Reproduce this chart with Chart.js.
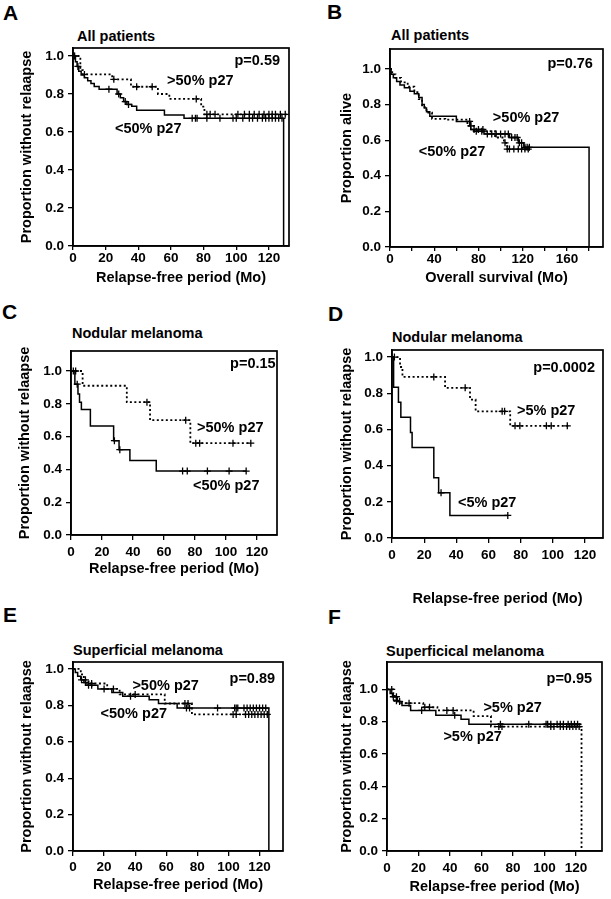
<!DOCTYPE html>
<html>
<head>
<meta charset="utf-8">
<script src="https://cdn.jsdelivr.net/npm/chart.js@4.4.1/dist/chart.umd.min.js"></script>
<style>
  body { margin: 0; width: 611px; height: 899px; background: #fff; position: relative; overflow: hidden; }
  canvas { position: absolute; }
  .lbl { position: absolute; font-family: 'Liberation Sans', Arial, sans-serif; font-weight: bold; color: #000; line-height: 1; white-space: nowrap; }
  .letter { font-size: 21px; }
  .ttl { font-size: 14.5px; }
</style>
</head>
<body>
<div class="lbl letter" style="left:3px;top:2px">A</div>
<div class="lbl letter" style="left:327px;top:1px">B</div>
<div class="lbl letter" style="left:2px;top:301px">C</div>
<div class="lbl letter" style="left:328px;top:303px">D</div>
<div class="lbl letter" style="left:3px;top:604px">E</div>
<div class="lbl letter" style="left:328px;top:606px">F</div>
<div class="lbl ttl" style="left:77px;top:29px">All patients</div>
<div class="lbl ttl" style="left:391px;top:28px">All patients</div>
<div class="lbl ttl" style="left:72px;top:326px">Nodular melanoma</div>
<div class="lbl ttl" style="left:392px;top:330px">Nodular melanoma</div>
<div class="lbl ttl" style="left:73px;top:643px">Superficial melanoma</div>
<div class="lbl ttl" style="left:386px;top:644px">Superficical melanoma</div>

<script>
// ─────────────────────────────────────────────────────────────
// DATA  (T = step times in months, S = proportion after the step,
//        C = censored times; marks sit on the curve)
// ─────────────────────────────────────────────────────────────
// A: all patients, relapse-free
const A_LO_T = [0, 1.5, 2.5, 3.5, 5, 7, 9, 11, 13, 16, 27, 29, 31, 33, 36, 39, 56, 68, 129];
const A_LO_S = [1, 0.97, 0.945, 0.92, 0.90, 0.885, 0.87, 0.855, 0.84, 0.825, 0.80, 0.78, 0.76, 0.745, 0.735, 0.715, 0.69, 0.672, 0];
const A_LO_C = [0.5, 3, 22, 28, 32, 34, 73, 75, 76, 82, 90, 98, 100, 104, 108, 110, 113, 116, 118, 120, 122, 124, 126, 128];
const A_HI_T = [0, 4.5, 6, 24, 35.5, 52, 59, 78.5, 80.5, 131];
const A_HI_S = [1, 0.926, 0.903, 0.877, 0.838, 0.80, 0.774, 0.733, 0.693, 0.693];
const A_HI_C = [1, 7, 25, 39, 48.5, 75.5, 82, 84, 87, 101, 105, 108, 111, 114, 117, 120, 122, 124, 127, 130];

// B: all patients, overall survival
const B_HI_T = [0, 1, 3, 6, 9, 13, 18, 22, 26, 29, 31, 33, 36, 60, 73, 85, 108, 116, 121, 180];
const B_HI_S = [1, 0.97, 0.95, 0.93, 0.91, 0.895, 0.875, 0.86, 0.84, 0.80, 0.78, 0.76, 0.735, 0.705, 0.66, 0.635, 0.615, 0.585, 0.56, 0];
const B_HI_C = [72, 76, 80, 84, 88, 92, 96, 100, 104, 107, 110, 113, 115, 117, 119, 122, 124, 126];
const B_LO_T = [0, 2, 5, 10, 16, 22, 26, 29, 33, 38, 50, 70, 76, 95, 103, 106, 127];
const B_LO_S = [1, 0.97, 0.95, 0.925, 0.90, 0.87, 0.83, 0.785, 0.755, 0.72, 0.715, 0.68, 0.65, 0.615, 0.585, 0.55, 0.55];
const B_LO_C = [73, 78, 83, 104, 106, 108, 112, 116, 119, 122, 125];

// C: nodular melanoma, 50% cut-off
const C_LO_T = [0, 2.5, 4.5, 5.5, 6.7, 12.5, 27.5, 31, 38, 55, 113];
const C_LO_S = [1, 0.92, 0.86, 0.81, 0.765, 0.665, 0.575, 0.52, 0.455, 0.39, 0.39];
const C_LO_C = [4, 28, 31.5, 72, 75, 88, 102, 113];
const C_HI_T = [0, 7.5, 36, 51, 77, 116];
const C_HI_S = [1, 0.91, 0.81, 0.70, 0.56, 0.56];
const C_HI_C = [1.5, 3, 49, 74, 80.5, 83, 104.5, 116];

// D: nodular melanoma, 5% cut-off
const D_LO_T = [0, 1, 4, 5.5, 11.5, 12.5, 26, 29, 36, 72];
const D_LO_S = [1, 0.833, 0.75, 0.667, 0.583, 0.5, 0.333, 0.25, 0.125, 0.125];
const D_LO_C = [30.5, 72];
const D_HI_T = [0, 5, 6.5, 33, 48.5, 52, 73.5, 110];
const D_HI_S = [1, 0.945, 0.89, 0.83, 0.765, 0.70, 0.62, 0.62];
const D_HI_C = [1.5, 26, 45.5, 68.5, 70, 76.5, 79.5, 96, 99, 109];

// E: superficial melanoma, 50% cut-off
const E_LO_T = [0, 1.5, 3, 5, 7, 9, 16, 25, 32, 49, 55, 67, 126];
const E_LO_S = [1, 0.98, 0.96, 0.94, 0.925, 0.91, 0.89, 0.87, 0.85, 0.83, 0.81, 0.785, 0];
const E_LO_C = [5.5, 8, 10, 12, 20, 37, 73, 75, 93, 104, 105, 106, 110, 112, 114, 116, 118, 120, 122, 124];
const E_HI_T = [0, 5, 7, 10, 22, 30, 59, 76.5, 126];
const E_HI_S = [1, 0.97, 0.94, 0.92, 0.89, 0.86, 0.81, 0.75, 0.75];
const E_HI_C = [8, 12, 26, 40, 72, 74, 103, 105, 111, 113, 115, 117, 119, 121, 123, 125];

// F: superficial melanoma, 5% cut-off
const F_SOL_T = [0, 2, 3.5, 6.5, 9.5, 15, 31, 47, 52, 123.5];
const F_SOL_S = [1, 0.975, 0.955, 0.925, 0.90, 0.87, 0.84, 0.815, 0.785, 0.785];
const F_SOL_C = [4, 6, 8, 22, 43, 72, 90, 101, 102, 104, 108, 110, 112, 115, 117, 119, 121];
const F_DOT_T = [0, 4, 5, 9, 23, 32, 55, 66, 123.5];
const F_DOT_S = [1, 0.96, 0.93, 0.915, 0.89, 0.87, 0.835, 0.77, 0];
const F_DOT_C = [3, 6, 14, 24, 27, 38, 42, 71, 73, 104, 106, 110, 112, 114, 116, 118, 120, 122];

const Y_TITLE_RFS = "Proportion without relaapse";
const X_TITLE_RFS = "Relapse-free period (Mo)";

// ─────────────────────────────────────────────────────────────
// CHART DEFAULTS
// ─────────────────────────────────────────────────────────────
const FONT = "'Liberation Sans', Arial, sans-serif";
Chart.defaults.font.family = FONT;
Chart.defaults.font.size = 13.5;
Chart.defaults.font.weight = "bold";
Chart.defaults.color = "#000";

function survAt(T, S, t) {
  let s = S[0];
  for (let i = 0; i < T.length; i++) if (T[i] <= t) s = S[i];
  return s;
}

function km(T, S, C, dotted) {
  return [
    {
      data: T.map((t, i) => ({ x: t, y: S[i] })),
      showLine: true, stepped: true, fill: false,
      borderColor: "#000", borderWidth: dotted ? 1.8 : 1.5,
      borderDash: dotted ? [2, 2.5] : [],
      pointRadius: 0,
    },
    {
      data: C.map(t => ({ x: t, y: survAt(T, S, t) })),
      showLine: false, pointStyle: "cross", pointRadius: 3.5,
      borderColor: "#000", borderWidth: 1.3, backgroundColor: "#000",
    }
  ];
}

// frame around the plot + in-plot notes
const panelDecor = {
  id: "panelDecor",
  afterDatasetsDraw(chart, args, opts) {
    const { ctx, chartArea: a, scales: { x, y } } = chart;
    ctx.save();
    ctx.strokeStyle = "#000";
    ctx.lineWidth = 1.7;
    ctx.strokeRect(a.left, a.top, a.right - a.left, a.bottom - a.top);
    ctx.font = "bold 14.5px " + FONT;
    ctx.fillStyle = "#000";
    ctx.textBaseline = "middle";
    (opts.notes || []).forEach(n => {
      ctx.textAlign = n.align;
      ctx.fillText(n.text, x.getPixelForValue(n.x), y.getPixelForValue(n.y));
    });
    ctx.restore();
  }
};

// ─────────────────────────────────────────────────────────────
// PANELS
// ─────────────────────────────────────────────────────────────
const PANELS = [
  { left: 0, top: 0, w: 305, h: 295, padTop: 48, padRight: 16, yW: 73, xH: 49,
    xMax: 132.3, yMax: 1.042, xStep: 20, xTickLen: 4, xTickPad: 0,
    xTitle: X_TITLE_RFS, yTitle: Y_TITLE_RFS, yTitlePad: 18.3, xTitlePad: 8.3,
    sets: [...km(A_LO_T, A_LO_S, A_LO_C, false), ...km(A_HI_T, A_HI_S, A_HI_C, true)],
    notes: [
      { text: "p=0.59", x: 126.8, y: 0.974, align: "right" },
      { text: ">50% p27", x: 57.6, y: 0.868, align: "left" },
      { text: "<50% p27", x: 25.7, y: 0.616, align: "left" },
    ] },
  { left: 305, top: 0, w: 306, h: 295, padTop: 49, padRight: 8, yW: 85, xH: 48,
    xMax: 192.6, yMax: 1.112, xStep: 20, xTickLen: 4, xTickPad: 0, xEvery: 40,
    xTitle: "Overall survival (Mo)", yTitle: "Proportion alive", yTitlePad: 33.3, xTitlePad: 8.3,
    sets: [...km(B_HI_T, B_HI_S, B_HI_C, false), ...km(B_LO_T, B_LO_S, B_LO_C, true)],
    notes: [
      { text: "p=0.76", x: 183.5, y: 1.028, align: "right" },
      { text: ">50% p27", x: 93, y: 0.727, align: "left" },
      { text: "<50% p27", x: 26, y: 0.536, align: "left" },
    ] },
  { left: 0, top: 290, w: 305, h: 295, padTop: 61, padRight: 28, yW: 71, xH: 50,
    xMax: 132.9, yMax: 1.122, xStep: 20, xTickLen: 5, xTickPad: 4,
    xTitle: X_TITLE_RFS, yTitle: Y_TITLE_RFS, yTitlePad: 16.3, xTitlePad: 7.8,
    sets: [...km(C_LO_T, C_LO_S, C_LO_C, false), ...km(C_HI_T, C_HI_S, C_HI_C, true)],
    notes: [
      { text: "p=0.15", x: 132, y: 1.043, align: "right" },
      { text: ">50% p27", x: 81.3, y: 0.655, align: "left" },
      { text: "<50% p27", x: 78.7, y: 0.296, align: "left" },
    ] },
  { left: 305, top: 290, w: 306, h: 320, padTop: 60, padRight: 8, yW: 87, xH: 72,
    xMax: 131.2, yMax: 1.039, xStep: 20, xTickLen: 5, xTickPad: 4,
    xTitle: X_TITLE_RFS, yTitle: Y_TITLE_RFS, yTitlePad: 33.3, xTitlePad: 2.8,
    sets: [...km(D_LO_T, D_LO_S, D_LO_C, false), ...km(D_HI_T, D_HI_S, D_HI_C, true)],
    notes: [
      { text: "p=0.0002", x: 126.2, y: 0.942, align: "right" },
      { text: ">5% p27", x: 77.7, y: 0.70, align: "left" },
      { text: "<5% p27", x: 41, y: 0.196, align: "left" },
    ] },
  { left: 0, top: 600, w: 305, h: 299, padTop: 62, padRight: 22, yW: 73, xH: 48,
    xMax: 135.1, yMax: 1.038, xStep: 20, xTickLen: 5, xTickPad: 3,
    xTitle: X_TITLE_RFS, yTitle: Y_TITLE_RFS, yTitlePad: 18.3, xTitlePad: 5.3,
    sets: [...km(E_LO_T, E_LO_S, E_LO_C, false), ...km(E_HI_T, E_HI_S, E_HI_C, true)],
    notes: [
      { text: "p=0.89", x: 130, y: 0.945, align: "right" },
      { text: ">50% p27", x: 38.2, y: 0.904, align: "left" },
      { text: "<50% p27", x: 17.7, y: 0.75, align: "left" },
    ] },
  { left: 305, top: 600, w: 306, h: 299, padTop: 62, padRight: 9, yW: 82, xH: 48,
    xMax: 136.5, yMax: 1.17, xStep: 20, xTickLen: 5, xTickPad: 4,
    xTitle: X_TITLE_RFS, yTitle: Y_TITLE_RFS, yTitlePad: 33.3, xTitlePad: 3.3,
    sets: [...km(F_SOL_T, F_SOL_S, F_SOL_C, false), ...km(F_DOT_T, F_DOT_S, F_DOT_C, true)],
    notes: [
      { text: "p=0.95", x: 130.2, y: 1.064, align: "right" },
      { text: ">5% p27", x: 61.2, y: 0.887, align: "left" },
      { text: ">5% p27", x: 35.8, y: 0.707, align: "left" },
    ] },
];

function drawPanel(p) {
  const canvas = document.createElement("canvas");
  canvas.width = p.w;
  canvas.height = p.h;
  canvas.style.left = p.left + "px";
  canvas.style.top = p.top + "px";
  document.body.appendChild(canvas);

  const grid = { drawOnChartArea: false, color: "#000", lineWidth: 1.3 };
  const border = { color: "#000", width: 1.6 };
  const titleFont = { size: 14.5, weight: "bold" };

  new Chart(canvas, {
    type: "line",
    data: { datasets: p.sets },
    options: {
      responsive: false,
      animation: false,
      layout: { padding: { top: p.padTop, right: p.padRight, bottom: 0, left: 0 } },
      plugins: { legend: { display: false }, tooltip: { enabled: false }, panelDecor: { notes: p.notes } },
      scales: {
        x: {
          type: "linear", min: 0, max: p.xMax,
          afterFit: s => { s.height = p.xH; },
          ticks: {
            stepSize: p.xStep, includeBounds: false, autoSkip: false, maxRotation: 0,
            padding: p.xTickPad,
            callback: v => (p.xEvery && v % p.xEvery !== 0) ? "" : v
          },
          grid: { ...grid, tickLength: p.xTickLen },
          border,
          title: { display: true, text: p.xTitle, font: titleFont, padding: { top: 0, bottom: p.xTitlePad } }
        },
        y: {
          type: "linear", min: 0, max: p.yMax,
          afterFit: s => { s.width = p.yW; },
          ticks: { stepSize: 0.2, includeBounds: false, padding: 4, callback: v => v.toFixed(1) },
          grid: { ...grid, tickLength: 5 },
          border,
          title: { display: true, text: p.yTitle, font: titleFont, padding: { top: p.yTitlePad, bottom: 0 } }
        }
      }
    },
    plugins: [panelDecor]
  });
}

PANELS.forEach(drawPanel);
</script>
</body>
</html>
